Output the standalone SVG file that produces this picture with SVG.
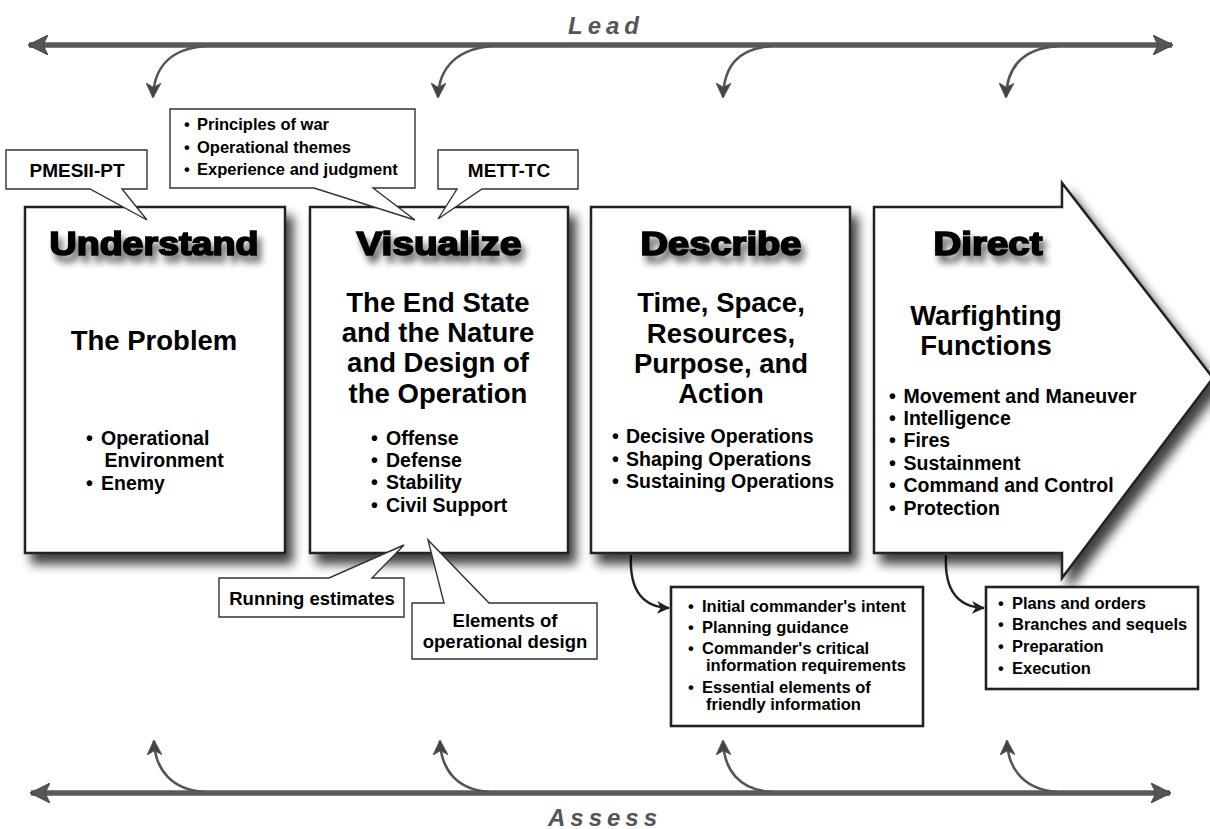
<svg xmlns="http://www.w3.org/2000/svg" width="1210" height="829" viewBox="0 0 1210 829">
<defs>
<style>
text{font-family:"Liberation Sans",Arial,sans-serif;font-weight:bold;fill:#000}
.box{fill:#fff;stroke:#222;stroke-width:2.5}
.call{fill:#fff;stroke:#333;stroke-width:1.4}
.sub{fill:#fff;stroke:#222;stroke-width:2.6}
.h{font-size:33px;stroke:#000;stroke-width:1.7;text-anchor:middle}
.t{font-size:27.5px;text-anchor:middle}
.b{font-size:19.5px}
.c{font-size:19px}
.s{font-size:16.5px}
.r{font-size:18.5px}
.lbl{font-size:24px;font-style:italic;fill:#555;letter-spacing:5px;text-anchor:middle}
.main{fill:none;stroke:#5a5a5a;stroke-width:5.5}
.curve{fill:none;stroke:#555;stroke-width:2.6}
.conn{fill:none;stroke:#222;stroke-width:2.4}
</style>
<filter id="shadow" x="-10%" y="-10%" width="130%" height="130%">
<feGaussianBlur in="SourceAlpha" stdDeviation="5.5"/>
<feOffset dx="7" dy="10" result="o"/>
<feComponentTransfer><feFuncA type="linear" slope="0.75"/></feComponentTransfer>
<feMerge><feMergeNode/><feMergeNode in="SourceGraphic"/></feMerge>
</filter>
<filter id="tshadow" x="-10%" y="-20%" width="130%" height="180%">
<feGaussianBlur in="SourceAlpha" stdDeviation="3.5"/>
<feOffset dx="4" dy="7" result="o"/>
<feComponentTransfer><feFuncA type="linear" slope="0.6"/></feComponentTransfer>
<feMerge><feMergeNode/><feMergeNode in="SourceGraphic"/></feMerge>
</filter>
<marker id="big" viewBox="0 0 20 20" markerWidth="20" markerHeight="20" refX="19" refY="10" orient="auto-start-reverse" markerUnits="userSpaceOnUse">
<path d="M0,0 L20,10 L0,20 L5,10 Z" fill="#555" stroke="#444" stroke-width="1"/>
</marker>
<marker id="sm" viewBox="0 0 14 14" markerWidth="15" markerHeight="15" refX="13" refY="7" orient="auto" markerUnits="userSpaceOnUse">
<path d="M0,0 L14,7 L0,14 L4,7 Z" fill="#444" stroke="#555" stroke-width="0.8"/>
</marker>
<marker id="dk" viewBox="0 0 14 14" markerWidth="13" markerHeight="13" refX="13" refY="7" orient="auto" markerUnits="userSpaceOnUse">
<path d="M0,0 L14,7 L0,14 L4,7 Z" fill="#222"/>
</marker>
</defs>
<rect width="1210" height="829" fill="#fff"/>

<g id="connectors">
<path class="main" d="M29,45 H1172" marker-start="url(#big)" marker-end="url(#big)"/>
<path class="curve" d="M207,46 C172,48 154,66 153,97" marker-end="url(#sm)"/>
<path class="curve" d="M494,46 C459,48 439,66 438,97" marker-end="url(#sm)"/>
<path class="curve" d="M773,46 C738,48 724,66 723,97" marker-end="url(#sm)"/>
<path class="curve" d="M1059,46 C1024,48 1007,66 1006,97" marker-end="url(#sm)"/>
<path class="main" d="M31,793 H1170" marker-start="url(#big)" marker-end="url(#big)"/>
<path class="curve" d="M205,792 C172,790 155,770 154,741" marker-end="url(#sm)"/>
<path class="curve" d="M490,792 C457,790 441,770 440,741" marker-end="url(#sm)"/>
<path class="curve" d="M772,792 C739,790 724,770 723,741" marker-end="url(#sm)"/>
<path class="curve" d="M1058,792 C1025,790 1008,770 1007,741" marker-end="url(#sm)"/>
<path class="conn" d="M631,555 C629,592 644,607 669,608" marker-end="url(#dk)"/>
<path class="conn" d="M946,555 C944,592 959,607 984,608" marker-end="url(#dk)"/>
</g>

<text class="lbl" x="606" y="34">Lead</text>
<text class="lbl" x="605" y="826">Assess</text>

<g id="understand">
<rect class="box" x="25" y="207" width="260" height="346" filter="url(#shadow)"/>
<text class="h" x="154" y="255" textLength="209" lengthAdjust="spacingAndGlyphs" filter="url(#tshadow)">Understand</text>
<text class="t" x="154" y="350">The Problem</text>
<text class="b"><tspan x="86" y="445">•</tspan><tspan x="101" y="445">Operational</tspan><tspan x="104.5" y="467">Environment</tspan><tspan x="86" y="490">•</tspan><tspan x="101" y="490">Enemy</tspan></text>
</g>

<g id="visualize">
<rect class="box" x="310" y="207" width="258" height="346" filter="url(#shadow)"/>
<text class="h" x="439" y="255" textLength="165" lengthAdjust="spacingAndGlyphs" filter="url(#tshadow)">Visualize</text>
<text class="t"><tspan x="438" y="312">The End State</tspan><tspan x="438" y="342">and the Nature</tspan><tspan x="438" y="372">and Design of</tspan><tspan x="438" y="403">the Operation</tspan></text>
<text class="b"><tspan x="371" y="445">•</tspan><tspan x="386" y="445">Offense</tspan><tspan x="371" y="467">•</tspan><tspan x="386" y="467">Defense</tspan><tspan x="371" y="489">•</tspan><tspan x="386" y="489">Stability</tspan><tspan x="371" y="512">•</tspan><tspan x="386" y="512">Civil Support</tspan></text>
</g>

<g id="describe">
<rect class="box" x="591" y="207" width="259" height="346" filter="url(#shadow)"/>
<text class="h" x="721" y="255" textLength="161" lengthAdjust="spacingAndGlyphs" filter="url(#tshadow)">Describe</text>
<text class="t"><tspan x="721" y="312">Time, Space,</tspan><tspan x="721" y="343">Resources,</tspan><tspan x="721" y="373">Purpose, and</tspan><tspan x="721" y="403">Action</tspan></text>
<text class="b"><tspan x="612" y="443">•</tspan><tspan x="626" y="443">Decisive Operations</tspan><tspan x="612" y="466">•</tspan><tspan x="626" y="466">Shaping Operations</tspan><tspan x="612" y="488">•</tspan><tspan x="626" y="488">Sustaining Operations</tspan></text>
</g>

<g id="direct">
<path class="box" d="M874,207 H1062 V183 L1213,378 L1062,578 V553 H874 Z" filter="url(#shadow)"/>
<text class="h" x="988" y="255" textLength="109" lengthAdjust="spacingAndGlyphs" filter="url(#tshadow)">Direct</text>
<text class="t"><tspan x="986" y="325">Warfighting</tspan><tspan x="986" y="355">Functions</tspan></text>
<text class="b"><tspan x="889" y="403">•</tspan><tspan x="903.5" y="403">Movement and Maneuver</tspan><tspan x="889" y="425">•</tspan><tspan x="903.5" y="425">Intelligence</tspan><tspan x="889" y="447">•</tspan><tspan x="903.5" y="447">Fires</tspan><tspan x="889" y="470">•</tspan><tspan x="903.5" y="470">Sustainment</tspan><tspan x="889" y="492">•</tspan><tspan x="903.5" y="492">Command and Control</tspan><tspan x="889" y="515">•</tspan><tspan x="903.5" y="515">Protection</tspan></text>
</g>

<g id="pmesii">
<path class="call" d="M6,150 H147 V189 H122 L147,220 L90,189 H6 Z"/>
<text class="c" x="77" y="177" text-anchor="middle">PMESII-PT</text>
</g>

<g id="principles">
<path class="call" d="M170,109 H415 V188 H373 L415,220 L314,188 H170 Z"/>
<text class="s"><tspan x="184" y="130">•</tspan><tspan x="197" y="130">Principles of war</tspan><tspan x="184" y="153">•</tspan><tspan x="197" y="153">Operational themes</tspan><tspan x="184" y="175">•</tspan><tspan x="197" y="175">Experience and judgment</tspan></text>
</g>

<g id="mett">
<path class="call" d="M438,150 H578 V189 H482 L438,219 L457,189 H438 Z"/>
<text class="c" x="509" y="177" text-anchor="middle">METT-TC</text>
</g>

<g id="running">
<path class="call" d="M219,578 H329 L404,545 L372,578 H404 V617 H219 Z"/>
<text class="r" x="312" y="605" text-anchor="middle">Running estimates</text>
</g>

<g id="elements">
<path class="call" d="M412,603 H444 L428,540 L489,603 H597 V659 H412 Z"/>
<text class="r" text-anchor="middle"><tspan x="505" y="627">Elements of</tspan><tspan x="505" y="648">operational design</tspan></text>
</g>

<g id="describeOut">
<rect class="sub" x="671" y="587" width="252" height="139"/>
<text class="s"><tspan x="688" y="612">•</tspan><tspan x="702" y="612">Initial commander's intent</tspan><tspan x="688" y="633">•</tspan><tspan x="702" y="633">Planning guidance</tspan><tspan x="688" y="654">•</tspan><tspan x="702" y="654">Commander's critical</tspan><tspan x="706" y="671">information requirements</tspan><tspan x="688" y="693">•</tspan><tspan x="702" y="693">Essential elements of</tspan><tspan x="706" y="710">friendly information</tspan></text>
</g>

<g id="directOut">
<rect class="sub" x="986" y="587" width="212" height="102"/>
<text class="s"><tspan x="998" y="609">•</tspan><tspan x="1012" y="609">Plans and orders</tspan><tspan x="998" y="630">•</tspan><tspan x="1012" y="630">Branches and sequels</tspan><tspan x="998" y="652">•</tspan><tspan x="1012" y="652">Preparation</tspan><tspan x="998" y="674">•</tspan><tspan x="1012" y="674">Execution</tspan></text>
</g>
</svg>
